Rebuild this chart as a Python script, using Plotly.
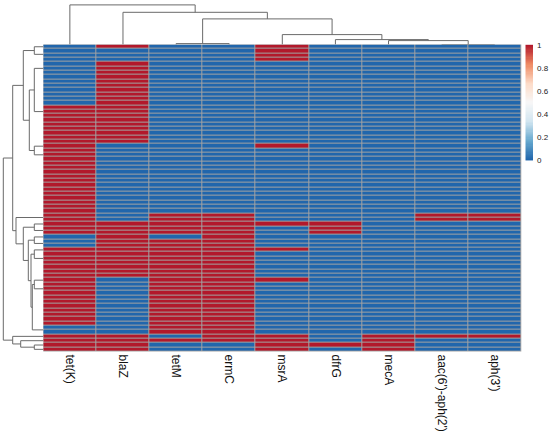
import plotly.graph_objects as go

# antibiotic resistance genes (columns of the heatmap, in dendrogram order)
genes = ["tet(K)", "blaZ", "tetM", "ermC", "msrA", "dfrG", "mecA",
         "aac(6')-aph(2')", "aph(3')"]

# presence (1) / absence (0) per isolate, 71 isolates, written in blocks of 10 rows
tetK = "0000000000 0000111111 1111111111 1111111111 1111000111 1111111111 1111100111 1"
blaZ = "1000111111 1111111111 1110000000 0000000000 0111111111 1111000000 0000000111 1"
tetM = "0000000000 0000000000 0000000000 0000000001 1111011111 1111111111 1111111010 0"
ermC = "0000000000 0000000000 0000000000 0000000001 1111111111 1111111111 1111111110 0"
msrA = "1111000000 0000000000 0001000000 0000000000 0100000100 0000100000 0000000111 1"
dfrG = "0000000000 0000000000 0000000000 0000000000 0111000000 0000000000 0000000001 0"
mecA = "0000000000 0000000000 0000000000 0000000000 0000000000 0000000000 0000000111 1"
aac = "0000000000 0000000000 0000000000 0000000001 1000000000 0000000000 0000000100 0"
aph3 = "0000000000 0000000000 0000000000 0000000001 1000000000 0000000000 0000000100 0"

profiles = [tetK, blaZ, tetM, ermC, msrA, dfrG, mecA, aac, aph3]
cols = [[int(c) for c in p.replace(" ", "")] for p in profiles]
n_rows = len(cols[0])
z = [[cols[j][i] for j in range(len(genes))] for i in range(n_rows)]

# row clusters of identical isolates (first row, last row)
row_groups = {
    "A": (0, 0), "B": (1, 3), "C": (4, 13), "D": (14, 22), "E": (23, 23),
    "F": (24, 38), "G": (39, 40), "H": (41, 41), "I": (42, 43), "J": (44, 44),
    "K": (45, 46), "L": (47, 47), "M": (48, 53), "N": (54, 54), "O": (55, 64),
    "P": (65, 66), "Q": (67, 67), "R": (68, 68), "S": (69, 69), "T": (70, 70),
}

# row tree: (node, left, right, merge height)
row_merges = [
    ("AB", "A", "B", 9), ("CD", "C", "D", 9), ("EF", "E", "F", 9),
    ("CDEF", "CD", "EF", 14), ("upper", "AB", "CDEF", 20),
    ("HI", "H", "I", 9), ("JK", "J", "K", 9), ("LM", "L", "M", 9),
    ("NO", "N", "O", 9), ("NOP", "NO", "P", 11), ("LP", "LM", "NOP", 12.3),
    ("JP", "JK", "LP", 15), ("HP", "HI", "JP", 20), ("middle", "G", "HP", 27.3),
    ("top", "upper", "middle", 30.6),
    ("ST", "S", "T", 9), ("RST", "R", "ST", 22.6), ("bottom", "Q", "RST", 30.6),
    ("root", "top", "bottom", 40),
]

# column tree: leaves are gene indices
col_merges = [
    ("aa", 7, 8, 0), ("m", 6, "aa", 4), ("d", 5, "m", 5), ("s", 4, "d", 10),
    ("te", 2, 3, 1), ("ts", "te", "s", 25.7), ("b", 1, "ts", 32.3),
    ("root", 0, "b", 39.7),
]

legend_ticks = [0, 0.2, 0.4, 0.6, 0.8, 1]


def chain_pos(first, last):
    # identical leaves merged at height 0, last pair first (as hclust draws them)
    pos = last
    for i in range(last - 1, first - 1, -1):
        pos = (i + pos) / 2
    return pos


def dendro_segments(nodes, merges):
    pos_list, h_list = [], []
    for name, a, b, h in merges:
        pa, ha = nodes[a]
        pb, hb = nodes[b]
        pos_list += [pa, pa, pb, pb, None]
        h_list += [ha, h, h, hb, None]
        nodes[name] = ((pa + pb) / 2, h)
    return pos_list, h_list


row_nodes = {k: (chain_pos(*v), 0) for k, v in row_groups.items()}
row_pos, row_h = dendro_segments(row_nodes, row_merges)

col_nodes = {i: (i, 0) for i in range(len(genes))}
col_pos, col_h = dendro_segments(col_nodes, col_merges)

W, H = 550, 437
hm_left, hm_right, hm_top, hm_bottom = 43.3, 521.3, 44.6, 351.5

rdbu = ["#2166AC", "#67A9CF", "#D1E5F0", "#F7F7F7", "#FDDBC7", "#EF8A62", "#B2182B"]
colorscale = [[i / (len(rdbu) - 1), c] for i, c in enumerate(rdbu)]
font_family = "Liberation Sans, Arial, sans-serif"

fig = go.Figure()

fig.add_trace(go.Heatmap(
    z=z, x=list(range(len(genes))), y=list(range(n_rows)),
    zmin=0, zmax=1, colorscale=colorscale, xgap=1, ygap=1,
    hoverinfo="skip", showscale=False,
))

# colour key drawn as its own small heatmap so it does not push the margins
steps = 100
fig.add_trace(go.Heatmap(
    z=[[k / (steps - 1)] for k in range(steps)],
    y=[k / (steps - 1) for k in range(steps)], x=[0],
    zmin=0, zmax=1, colorscale=colorscale, showscale=False,
    xaxis="x4", yaxis="y4", hoverinfo="skip",
))

line_style = dict(color="#6a6a6a", width=1)
fig.add_trace(go.Scatter(x=row_h, y=row_pos, mode="lines", line=line_style,
                         xaxis="x2", yaxis="y", hoverinfo="skip", showlegend=False))
fig.add_trace(go.Scatter(x=col_pos, y=col_h, mode="lines", line=line_style,
                         xaxis="x", yaxis="y3", hoverinfo="skip", showlegend=False))

# grey cell borders show through the heatmap gaps
fig.add_shape(type="rect", xref="x domain", yref="y domain", x0=0, x1=1, y0=0, y1=1,
              fillcolor="#a3a3a3", line=dict(width=0), layer="below")

fig.update_layout(
    width=W, height=H, margin=dict(l=0, r=0, t=0, b=0),
    paper_bgcolor="white", plot_bgcolor="white", showlegend=False,
    font=dict(family=font_family, color="#111111"),
    xaxis=dict(domain=[hm_left / W, hm_right / W], range=[-0.5, len(genes) - 0.5],
               tickvals=list(range(len(genes))), ticktext=genes, tickangle=90,
               tickfont=dict(size=12), ticks="", ticklabelstandoff=2, automargin=False,
               showgrid=False, zeroline=False, showline=False, anchor="y"),
    yaxis=dict(domain=[1 - hm_bottom / H, 1 - hm_top / H], range=[n_rows - 0.5, -0.5],
               showticklabels=False, ticks="", showgrid=False, zeroline=False,
               automargin=False),
    xaxis2=dict(domain=[0, hm_left / W], range=[hm_left, 0], visible=False, anchor="y"),
    yaxis3=dict(domain=[1 - hm_top / H, 1], range=[0, hm_top], visible=False, anchor="x"),
    xaxis4=dict(domain=[525.3 / W, 533 / W], visible=False, anchor="y4",
                range=[-0.5, 0.5]),
    yaxis4=dict(domain=[1 - 160.7 / H, 1 - hm_top / H], anchor="x4", side="right",
                range=[-0.5 / (steps - 1), 1 + 0.5 / (steps - 1)],
                tickvals=legend_ticks, ticktext=[f"{t:g}" for t in legend_ticks],
                ticks="", ticklabelstandoff=3, automargin=False,
                tickfont=dict(size=8, color="#222222"),
                showgrid=False, zeroline=False, showline=False),
)

# drop the browser's default page margin so the figure sits at the top-left corner
fig.write_html("out.html", config={"displayModeBar": False},
               post_script="document.body.style.margin = '0';")
